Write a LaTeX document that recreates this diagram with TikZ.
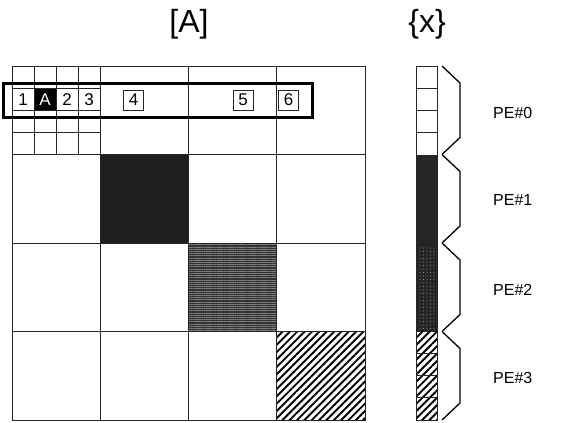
\documentclass[tikz,border=0pt]{standalone}
\usepackage{fontspec}
\setmainfont{Liberation Sans}
\usetikzlibrary{patterns.meta}

\tikzset{
  gridline/.style={draw=black!85,line width=1pt},
  thinline/.style={draw=black!85,line width=0.8pt},
  elem/.style={draw=black!85,line width=0.9pt,minimum size=20pt,inner sep=0pt,font=\fontsize{17}{17}\selectfont},
  num/.style={inner sep=0pt,font=\fontsize{17}{17}\selectfont},
  pelabel/.style={anchor=west,inner sep=0pt,font=\fontsize{16}{16}\selectfont},
  title/.style={inner sep=0pt,font=\fontsize{32}{32}\selectfont},
  braceline/.style={line width=1.3pt,line join=miter},
  hatch/.style={pattern={Lines[angle=45,distance=5.2pt,line width=1.9pt]}},
  screen/.style={pattern={Lines[angle=0,distance=2.2pt,line width=0.6pt]},pattern color=black!50},
  dots/.style={pattern={Dots[distance=3.5pt,radius=0.45pt]},pattern color=white!80!black},
}

\begin{document}
\begin{tikzpicture}[x=1pt,y=-1pt]
  \useasboundingbox (0,0) rectangle (563,423);
  % titles
  \node[title] (tA) at (189,24) {[A]};
  \node[title] (tx) at (427,24) {\{x\}};

  % diagonal blocks of [A]
  \fill[black!88] (100.25,154.5) rectangle (188.5,243);
  \fill[black!80] (188.5,243) rectangle (276.75,331.5);
  \fill[screen] (188.5,243) rectangle (276.75,331.5);
  \fill[hatch] (276.75,331.5) rectangle (365,420);
  \fill[black] (34.06,88.1) rectangle (56.12,110.2);

  % block grid
  \draw[gridline] (12,66) rectangle (365,420);
  \foreach \p in {100.25,188.5,276.75}{
    \draw[gridline] (\p,66) -- (\p,420);}
  \foreach \q in {154.5,243,331.5}{
    \draw[gridline] (12,\q) -- (365,\q);}
  \foreach \p in {34.06,56.12,78.19}{
    \draw[thinline] (\p,66) -- (\p,154.5);}
  \foreach \q in {88.1,110.2,132.3}{
    \draw[thinline] (12,\q) -- (100.25,\q);}

  % elements of the row
  \node[num] (e1) at (23,99.2) {1};
  \node[num,text=white] (eA) at (45.1,99.2) {A};
  \node[num] (e2) at (67.1,99.2) {2};
  \node[num] (e3) at (89.2,99.2) {3};
  \node[elem,fill=white] (e4) at (133.5,100) {4};
  \node[elem,fill=white] (e5) at (243,100) {5};
  \node[elem,fill=white] (e6) at (288.5,100) {6};
  \draw[line width=3pt] (3,83) rectangle (312,117);

  % vector {x}
  \fill[black!85] (416,154.5) rectangle (437,331.5);
  \fill[dots] (416,245) rectangle (437,331.5);
  \fill[hatch] (416,331.5) rectangle (437,420);
  \foreach \i in {1,2,3,13,14,15}{
    \draw[thinline] (416,66+22.125*\i) -- (437,66+22.125*\i);}
  \draw[gridline] (416,66) rectangle (437,420);

  % braces
  \foreach \k in {0,1,2,3}{
    \pgfmathsetmacro\ya{66+88.5*\k}
    \pgfmathsetmacro\yb{\ya+88.5}
    \draw[braceline] (442,\ya) -- (460,\ya+17) -- (460,\yb-17) -- (442,\yb);}

  % PE labels
  \node[pelabel] (pe0) at (493,113) {PE\#0};
  \node[pelabel] (pe1) at (493,200) {PE\#1};
  \node[pelabel] (pe2) at (493,290) {PE\#2};
  \node[pelabel] (pe3) at (493,378) {PE\#3};
\end{tikzpicture}
\end{document}
